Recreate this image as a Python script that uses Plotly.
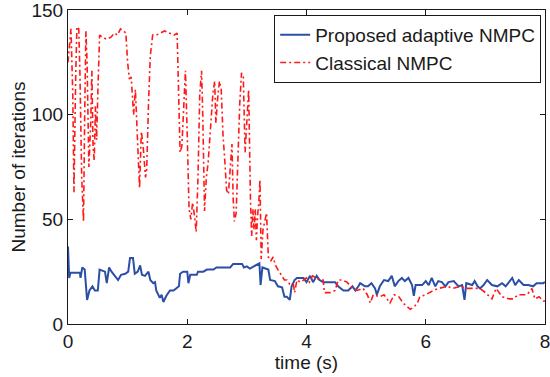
import plotly.graph_objects as go

# ---- data ----
t_adaptive = [0.00, 0.02, 0.04, 0.20, 0.21, 0.24, 0.28, 0.30, 0.32, 0.36, 0.41, 0.45, 0.50, 0.53, 0.62, 0.65,
              0.69, 0.73, 0.78, 0.84, 0.89, 0.96, 1.01, 1.04, 1.09, 1.12, 1.17, 1.21, 1.24, 1.29, 1.35, 1.38,
              1.43, 1.46, 1.48, 1.54, 1.57, 1.60, 1.65, 1.71, 1.77, 1.83, 1.86, 1.88, 1.93, 2.00, 2.02, 2.05,
              2.16, 2.18, 2.27, 2.33, 2.44, 2.49, 2.72, 2.77, 2.92, 2.95, 3.00, 3.05, 3.11, 3.16, 3.21, 3.23,
              3.26, 3.36, 3.39, 3.47, 3.52, 3.59, 3.63, 3.67, 3.72, 3.75, 3.80, 3.84, 3.95, 4.00, 4.06, 4.11,
              4.17, 4.22, 4.28, 4.48, 4.53, 4.62, 4.70, 4.77, 4.82, 4.87, 4.90, 4.98, 5.03, 5.09, 5.15, 5.18,
              5.23, 5.30, 5.37, 5.43, 5.48, 5.54, 5.60, 5.65, 5.71, 5.77, 5.80, 5.83, 5.94, 6.00, 6.05, 6.10,
              6.16, 6.21, 6.27, 6.33, 6.38, 6.47, 6.55, 6.61, 6.65, 6.68, 6.78, 6.82, 6.87, 6.91, 6.97, 7.03,
              7.11, 7.20, 7.28, 7.34, 7.45, 7.50, 7.56, 7.64, 7.72, 7.80, 7.86, 7.97, 8.00]
n_adaptive = [37, 22, 24.5, 24.5, 22, 27, 26, 18, 11.5, 16, 18, 16, 16, 26, 25, 19.5,
              27, 25, 23, 21, 23.5, 24, 25, 31.5, 31.5, 24, 25, 28, 23.5, 23, 25, 21,
              19.5, 20, 16, 12.5, 14, 10.5, 13.5, 16, 16, 17.5, 18, 24, 25, 25, 19.5, 23.5,
              23.5, 25, 25, 26, 26, 27, 27, 28.7, 28.7, 27, 27.5, 26.5, 27.5, 28.5, 29, 18.6,
              27, 26, 21, 20.5, 18, 17.5, 13, 13, 11.5, 18, 21, 22, 22, 20, 23, 20,
              23, 21, 20, 20, 18, 16, 16, 18, 16, 18, 19.5, 18, 18, 19.5, 17, 14,
              18, 21, 20.5, 23, 18, 20.5, 22, 20.5, 22, 18.6, 13.5, 18.6, 18.6, 20.5, 18.6, 22,
              18, 20.5, 20, 18, 20, 20.5, 18, 18.6, 11.5, 19.5, 18.6, 20.5, 18, 17, 18.6, 21,
              18.6, 18, 19.5, 18, 22, 18.6, 21, 18.6, 18.6, 18, 19.5, 19.5, 20]

t_classical = [0.00, 0.03, 0.05, 0.08, 0.10, 0.13, 0.15, 0.18, 0.20, 0.23, 0.26, 0.28, 0.30, 0.32, 0.35, 0.38,
               0.40, 0.42, 0.44, 0.46, 0.48, 0.50, 0.53, 0.58, 0.65, 0.72, 0.78, 0.83, 0.88, 0.93, 0.97, 1.00,
               1.03, 1.06, 1.10, 1.13, 1.16, 1.20, 1.23, 1.26, 1.30, 1.32, 1.35, 1.38, 1.42, 1.48, 1.55, 1.62,
               1.70, 1.78, 1.83, 1.86, 1.88, 1.91, 1.94, 1.97, 2.00, 2.03, 2.06, 2.09, 2.12, 2.15, 2.18, 2.21,
               2.24, 2.26, 2.29, 2.32, 2.35, 2.38, 2.40, 2.43, 2.46, 2.48, 2.51, 2.54, 2.57, 2.60, 2.63, 2.66,
               2.69, 2.72, 2.75, 2.77, 2.79, 2.82, 2.85, 2.88, 2.91, 2.94, 2.97, 3.00, 3.03, 3.06, 3.08, 3.10,
               3.12, 3.14, 3.16, 3.18, 3.20, 3.22, 3.24, 3.27, 3.30, 3.33, 3.36, 3.40, 3.44, 3.48, 3.52, 3.58,
               3.63, 3.67, 3.72, 3.78, 3.80, 3.84, 3.90, 4.00, 4.05, 4.10, 4.17, 4.22, 4.28, 4.30, 4.40, 4.48,
               4.53, 4.60, 4.68, 4.77, 4.85, 4.95, 5.02, 5.07, 5.12, 5.23, 5.30, 5.40, 5.47, 5.55, 5.62, 5.70,
               5.74, 5.80, 5.86, 5.90, 6.00, 6.13, 6.22, 6.36, 6.45, 6.58, 6.68, 6.80, 6.91, 7.00, 7.11, 7.18,
               7.28, 7.40, 7.47, 7.55, 7.70, 7.78, 7.83, 7.90, 7.97, 8.00]
n_classical = [125, 135, 141, 110, 63, 120, 142, 141, 120, 70, 49, 100, 140, 125, 75, 95,
               121, 85, 78, 104, 88, 110, 138, 137, 136, 137, 139, 138, 141, 140, 139, 125,
               117, 118, 100, 112, 90, 65, 92, 85, 70, 74, 105, 128, 138, 138, 139, 140,
               139, 138, 139, 100, 82, 85, 105, 121, 90, 55, 50, 58, 52, 44, 70, 110,
               121, 100, 54, 70, 77, 90, 101, 110, 116, 96, 108, 116, 112, 90, 78, 64,
               62, 75, 86, 60, 49, 53, 80, 105, 120, 118, 82, 100, 112, 60, 42, 55,
               45, 55, 40, 52, 58, 69, 31, 45, 50, 53, 32, 30, 32, 28, 26, 23,
               21, 21, 19, 19, 15, 21, 20, 22, 20, 23, 22, 21, 21, 15, 15, 16,
               21, 21, 20, 17, 16, 17, 14, 10, 14, 13, 14, 10, 14, 13, 10, 8,
               7, 8, 10, 13, 14, 16, 17, 18, 17, 18, 17, 17, 17, 15, 12, 17,
               13, 12, 12, 14, 14, 17, 12, 13, 11, 11]

series_names = ["Proposed adaptive NMPC", "Classical NMPC"]
x_ticks = [0, 2, 4, 6, 8]
y_ticks = [0, 50, 100, 150]

FONT = "Liberation Sans, Arial, Helvetica, sans-serif"
TXT = "#1a1a1a"

fig = go.Figure()
fig.add_trace(go.Scatter(x=t_adaptive, y=n_adaptive, mode="lines", name=series_names[0],
                         line=dict(color="#2c4fa6", width=2)))
fig.add_trace(go.Scatter(x=t_classical, y=n_classical, mode="lines", name=series_names[1],
                         line=dict(color="#ff1a1a", width=1.6, dash="6px,3px,2px,3px")))

axis_common = dict(showline=True, linecolor="#1a1a1a", linewidth=1, mirror="ticks",
                   ticks="inside", ticklen=5, tickcolor="#1a1a1a", showgrid=False, zeroline=False,
                   ticklabeloverflow="allow",
                   tickfont=dict(family=FONT, size=19, color=TXT))

fig.update_xaxes(range=[0, 8], tickvals=x_ticks, ticktext=[str(v) for v in x_ticks],
                 title=dict(text="time (s)", font=dict(family=FONT, size=19, color=TXT), standoff=0),
                 **axis_common)
fig.update_yaxes(range=[0, 150], tickvals=y_ticks, ticktext=[str(v) for v in y_ticks],
                 title=dict(text="Number of iterations", font=dict(family=FONT, size=19, color=TXT), standoff=0),
                 **axis_common)

fig.update_layout(
    width=550, height=377,
    margin=dict(l=68, r=5, t=10, b=53, autoexpand=False),
    paper_bgcolor="white", plot_bgcolor="white",
    showlegend=True,
    legend=dict(x=0.992, y=0.984, xanchor="right", yanchor="top",
                bgcolor="white", bordercolor="#1a1a1a", borderwidth=1,
                font=dict(family=FONT, size=19, color=TXT),
                tracegroupgap=0, itemwidth=30),
)

fig.write_html("out.html", config={"displayModeBar": False},
               post_script="document.body.style.margin='0';")
